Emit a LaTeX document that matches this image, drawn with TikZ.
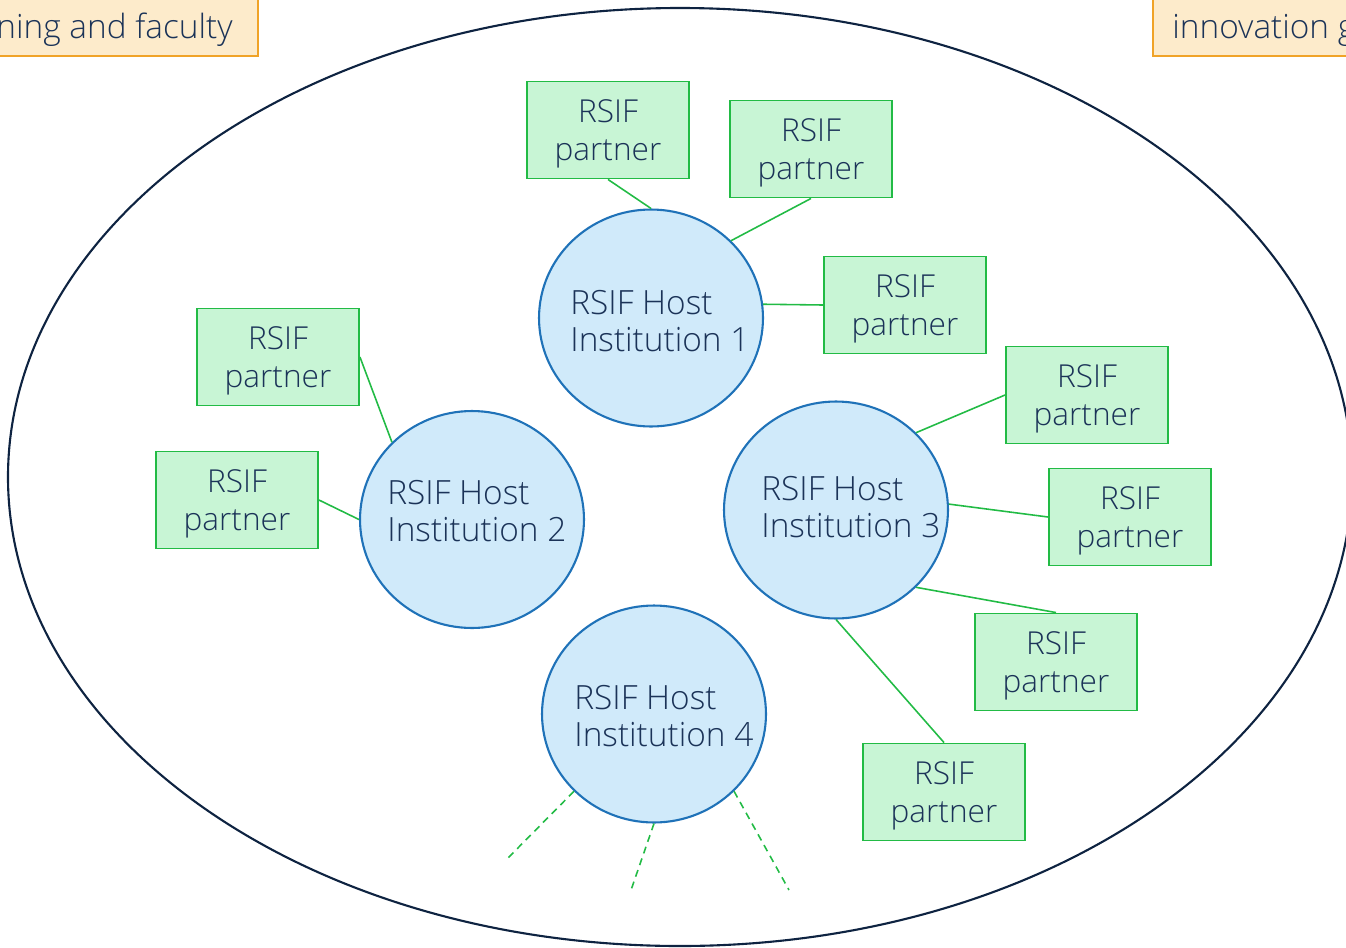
\documentclass[tikz,border=0pt]{standalone}
\usepackage{fontspec}
\setmainfont{Open Sans Light}
\usetikzlibrary{shapes.geometric}
\definecolor{navy}{HTML}{0E2341}
\definecolor{txt}{HTML}{1B3358}
\definecolor{hostfill}{HTML}{D0EAFA}
\definecolor{hostline}{HTML}{1F72B8}
\definecolor{partfill}{HTML}{C8F5D5}
\definecolor{partline}{HTML}{22BB45}
\definecolor{orfill}{HTML}{FDEBCB}
\definecolor{orline}{HTML}{F0A328}
\tikzset{
  hostbox/.style={ellipse, draw=hostline, fill=hostfill, line width=1.2pt, minimum width=4.48cm, minimum height=4.34cm, inner sep=0pt},
  hosttext/.style={anchor=west, align=left, text=txt, inner sep=0pt, font=\fontsize{19}{21.5}\selectfont},
  partbox/.style={rectangle, draw=partline, fill=partfill, line width=1.1pt, minimum width=3.24cm, minimum height=1.94cm, inner sep=0pt, align=center, text=txt, font=\fontsize{18}{21.5}\selectfont},
  link/.style={draw=partline, line width=0.9pt},
  dlink/.style={draw=partline, line width=0.9pt, dash pattern=on 4pt off 3pt},
  orbox/.style={draw=orline, fill=orfill, line width=1.1pt},
  ortext/.style={text=txt, inner sep=0pt, font=\fontsize{19}{21.5}\selectfont}
}
\newcommand{\ptext}{\rule{0pt}{17.5pt}RSIF\\partner}
\begin{document}
\begin{tikzpicture}[x=0.02cm,y=-0.02cm]
\useasboundingbox (0,0) rectangle (1346,947);
\begin{scope}
\clip (0,0) rectangle (1346,947);
\draw[orbox] (-20,-20) rectangle (258,56);
\node[ortext, anchor=base east] (tl) at (233,38) {ning and faculty};
\draw[orbox] (1153,-20) rectangle (1380,56);
\node[ortext, anchor=base west] (tr) at (1172,38) {innovation g};
\draw[navy, line width=1.2pt] (680,477) ellipse [x radius=672, y radius=469];
\end{scope}

% hosts
\node[hostbox] (h1) at (651,318) {};
\node[hostbox] (h2) at (472,519.5) {};
\node[hostbox] (h3) at (836,510) {};
\node[hostbox] (h4) at (654,714) {};
\node[hosttext] (t1) at (570,321) {RSIF Host\\Institution 1};
\node[hosttext] (t2) at (387,511) {RSIF Host\\Institution 2};
\node[hosttext] (t3) at (761,507) {RSIF Host\\Institution 3};
\node[hosttext] (t4) at (574,716) {RSIF Host\\Institution 4};

% partners
\node[partbox] (p1a) at (608,130) {\ptext};
\node[partbox] (p1b) at (811,149) {\ptext};
\node[partbox] (p1c) at (905,305) {\ptext};
\node[partbox] (p2a) at (278,357) {\ptext};
\node[partbox] (p2b) at (237,500) {\ptext};
\node[partbox] (p3a) at (1087,395) {\ptext};
\node[partbox] (p3b) at (1130,517) {\ptext};
\node[partbox] (p3c) at (1056,662) {\ptext};
\node[partbox] (p3d) at (944,792) {\ptext};

% links
\draw[link] (p1a.south) -- (h1.north);
\draw[link] (p1b.south) -- (h1.44);
\draw[link] (p1c.west) -- (h1.7);
\draw[link] (p2a.east) -- (h2.136);
\draw[link] (p2b.east) -- (h2.west);
\draw[link] (p3a.west) -- (h3.44);
\draw[link] (p3b.west) -- (h3.3);
\draw[link] (p3c.north) -- (h3.-44);
\draw[link] (p3d.north) -- (h3.south);

% dashed
\coordinate (d1) at (506,860);
\coordinate (d2) at (630,893);
\coordinate (d3) at (789,890);
\draw[dlink] (h4.224) -- (d1);
\draw[dlink] (h4.south) -- (d2);
\draw[dlink] (h4.-44) -- (d3);
\end{tikzpicture}
\end{document}
